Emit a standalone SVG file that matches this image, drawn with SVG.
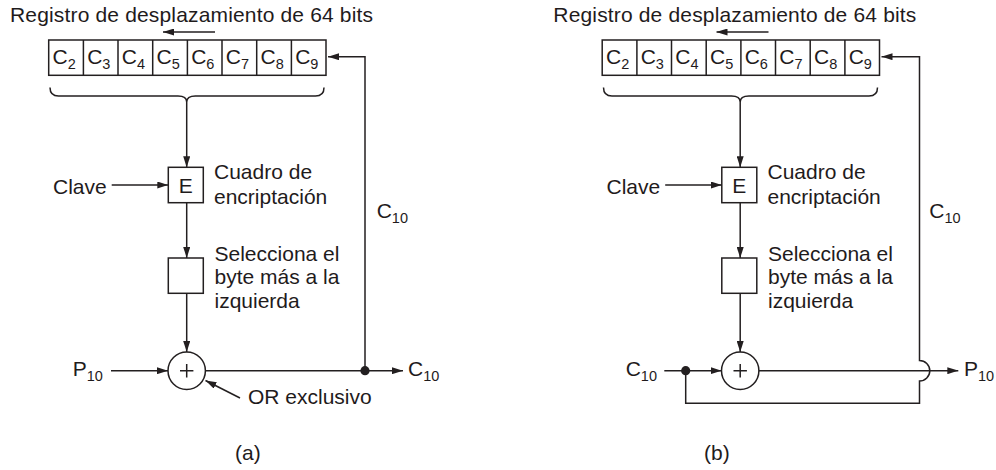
<svg xmlns="http://www.w3.org/2000/svg" width="996" height="470" viewBox="0 0 996 470">
<style>
text{font-family:"Liberation Sans",Arial,sans-serif;fill:#1f1b1c;font-size:21px}
.sub{font-size:14.5px}
.box{fill:#fff;stroke:#231f20;stroke-width:1.5}
.ln{fill:none;stroke:#231f20;stroke-width:1.5}
.ar{fill:none;stroke:#231f20;stroke-width:1.5;marker-end:url(#ah)}
.dot{fill:#231f20}
</style>
<defs>
<marker id="ah" viewBox="0 0 11 7" refX="11" refY="3.5" markerWidth="11" markerHeight="7" markerUnits="userSpaceOnUse" orient="auto"><path d="M0,0 L11,3.5 L0,7z" fill="#231f20"/></marker>
<g id="reg">
<rect class="box" x="48.7" y="40" width="277.3" height="35.3"/>
<path class="ln" d="M83.4,40V75.3M118.0,40V75.3M152.7,40V75.3M187.4,40V75.3M222.0,40V75.3M256.7,40V75.3M291.4,40V75.3"/>
<text x="52.5" y="64.3">C<tspan class="sub" dy="5">2</tspan></text>
<text x="87.2" y="64.3">C<tspan class="sub" dy="5">3</tspan></text>
<text x="121.8" y="64.3">C<tspan class="sub" dy="5">4</tspan></text>
<text x="156.5" y="64.3">C<tspan class="sub" dy="5">5</tspan></text>
<text x="191.2" y="64.3">C<tspan class="sub" dy="5">6</tspan></text>
<text x="225.8" y="64.3">C<tspan class="sub" dy="5">7</tspan></text>
<text x="260.5" y="64.3">C<tspan class="sub" dy="5">8</tspan></text>
<text x="295.2" y="64.3">C<tspan class="sub" dy="5">9</tspan></text>
<path class="ln" d="M50,87.5 Q50,96 58.5,96 L178,96 Q186.7,96 186.7,102 Q186.7,96 195.4,96 L315.5,96 Q324,96 324,87.5"/>
</g>
<g id="mid">
<rect class="box" x="168.3" y="167.3" width="35" height="35.4"/>
<text x="185.8" y="192.5" text-anchor="middle">E</text>
<text x="53" y="193.5">Clave</text>
<text x="214" y="179">Cuadro de</text>
<text x="214" y="203.5">encriptación</text>
<rect class="box" x="168.3" y="258" width="35" height="35.3"/>
<text x="214.5" y="260.5">Selecciona el</text>
<text x="214.5" y="284">byte más a la</text>
<text x="214.5" y="307.5">izquierda</text>
<circle class="box" cx="186.7" cy="370.7" r="18.7"/>
<path class="ln" d="M180,370.7H193.4M186.7,364V377.4" stroke-width="1.9"/>
</g>
</defs>

<g id="panel-a">
<g id="title-a"><text x="10" y="22" textLength="363" lengthAdjust="spacing">Registro de desplazamiento de 64 bits</text></g>
<g id="register-a"><use href="#reg"/></g>
<g id="nodes-a"><use href="#mid"/></g>
<g id="labels-a">
<text x="72.7" y="376">P<tspan class="sub" dy="5">10</tspan></text>
<text x="376.7" y="218">C<tspan class="sub" dy="5">10</tspan></text>
<text x="408" y="376">C<tspan class="sub" dy="5">10</tspan></text>
<text x="248" y="404">OR exclusivo</text>
<text x="235" y="460">(a)</text>
</g>
<g id="connectors-a">
<line class="ar" x1="215" y1="32" x2="163" y2="32"/>
<line class="ar" x1="186.7" y1="102" x2="186.7" y2="167.3"/>
<line class="ar" x1="111.7" y1="185" x2="168.3" y2="185"/>
<line class="ar" x1="186.7" y1="202.7" x2="186.7" y2="258"/>
<line class="ar" x1="186.7" y1="293.3" x2="186.7" y2="352"/>
<line class="ar" x1="111" y1="370.7" x2="168" y2="370.7"/>
<line class="ar" x1="205.4" y1="370.7" x2="403" y2="370.7"/>
<polyline class="ar" points="365,370.7 365,56.7 328,56.7"/>
<circle class="dot" cx="365" cy="370.7" r="4.6"/>
<line class="ar" x1="240" y1="398" x2="205.5" y2="380.5"/>
</g>
</g>

<g id="panel-b">
<g id="title-b"><text x="553.3" y="22" textLength="363" lengthAdjust="spacing">Registro de desplazamiento de 64 bits</text></g>
<g id="register-b"><use href="#reg" x="553.5"/></g>
<g id="nodes-b"><use href="#mid" x="553.5"/></g>
<g id="labels-b">
<text x="625.7" y="376">C<tspan class="sub" dy="5">10</tspan></text>
<text x="929.3" y="218">C<tspan class="sub" dy="5">10</tspan></text>
<text x="964" y="376">P<tspan class="sub" dy="5">10</tspan></text>
<text x="704" y="460">(b)</text>
</g>
<g id="connectors-b">
<line class="ar" x1="768.5" y1="32" x2="716.5" y2="32"/>
<line class="ar" x1="740.2" y1="102" x2="740.2" y2="167.3"/>
<line class="ar" x1="665.2" y1="185" x2="721.8" y2="185"/>
<line class="ar" x1="740.2" y1="202.7" x2="740.2" y2="258"/>
<line class="ar" x1="740.2" y1="293.3" x2="740.2" y2="352"/>
<line class="ar" x1="664.3" y1="370.7" x2="721.5" y2="370.7"/>
<line class="ar" x1="758.9" y1="370.7" x2="958.3" y2="370.7"/>
<path class="ar" d="M685.7,370.7 V403.3 H919.5 V381 A10.3,10.3 0 0 0 919.5,360.4 V56.7 H881.5"/>
<circle class="dot" cx="685.7" cy="370.7" r="4.6"/>
</g>
</g>
</svg>
